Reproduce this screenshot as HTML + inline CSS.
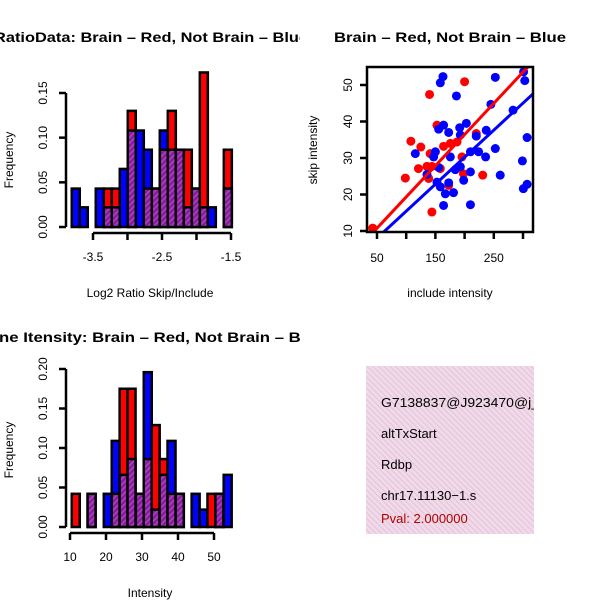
<!DOCTYPE html>
<html><head><meta charset="utf-8"><style>
body{margin:0;background:#fff}
svg{display:block;font-family:"Liberation Sans",sans-serif}
</style></head><body>
<svg id="c" width="600" height="600" xmlns="http://www.w3.org/2000/svg">
<defs>
<pattern id="hatch" width="4" height="4" patternUnits="userSpaceOnUse" patternTransform="rotate(45)">
<rect width="4" height="4" fill="#8c1aa0"/><rect width="1.5" height="4" fill="#a546bd"/></pattern>
<pattern id="pink" width="4" height="4" patternUnits="userSpaceOnUse" patternTransform="rotate(-45)">
<rect width="4" height="4" fill="#f6d6f0"/><rect width="1.2" height="4" fill="#d8d0c8"/></pattern>
<clipPath id="p1"><rect x="0" y="0" width="300" height="300"/></clipPath>
<clipPath id="p2"><rect x="300" y="0" width="300" height="300"/></clipPath>
<clipPath id="p3"><rect x="0" y="300" width="300" height="300"/></clipPath>
<clipPath id="sbox"><rect x="367" y="67" width="166" height="165"/></clipPath>
<clipPath id="tbox"><rect x="366" y="366" width="168" height="168"/></clipPath>
</defs>
<g clip-path="url(#p1)"><text x="-6" y="42" font-size="14" font-weight="bold" textLength="314" lengthAdjust="spacingAndGlyphs">RatioData: Brain – Red, Not Brain – Blue</text></g>
<g clip-path="url(#p2)"><text x="334" y="42" font-size="14" font-weight="bold" textLength="232" lengthAdjust="spacingAndGlyphs">Brain – Red, Not Brain – Blue</text></g>
<g clip-path="url(#p3)"><text x="-1" y="342" font-size="14" font-weight="bold" textLength="326" lengthAdjust="spacingAndGlyphs">ne Itensity: Brain – Red, Not Brain – Blue</text></g>
<g id="g1"></g><g id="g2"></g><g id="g3"></g>
<g>
<rect x="366" y="366" width="168" height="168" fill="url(#pink)"/>
<g clip-path="url(#tbox)" font-size="13">
<text x="381" y="407" textLength="158" lengthAdjust="spacingAndGlyphs">G7138837@J923470@j_</text>
<text x="381" y="438">altTxStart</text>
<text x="381" y="469">Rdbp</text>
<text x="381" y="500">chr17.11130−1.s</text>
<text x="381" y="523" fill="#b00000">Pval: 2.000000</text>
</g></g>
</svg>
<script>
// Ratio histogram data
const ratioBins = [-3.75,-3.634,-3.518,-3.402,-3.286,-3.17,-3.054,-2.938,-2.822,-2.706,-2.59,-2.474,-2.358,-2.242,-2.126,-2.01,-1.894,-1.778,-1.662,-1.546];
const ratioRed = [0,0,0,0,0.043,0.043,0,0.13,0,0.043,0.043,0.0865,0.13,0.0865,0.0865,0.043,0.173,0,0,0.0865];
const ratioBlue = [0.043,0.022,0,0.043,0.022,0.022,0.065,0.108,0.108,0.0865,0.043,0.108,0.0865,0.0865,0.022,0.043,0.022,0.022,0,0.043];
const ratioXTicks = [-3.5,-3.0,-2.5,-2.0,-1.5];
const ratioXLabels = ["-3.5","","-2.5","","-1.5"];
const ratioYTicks = [0,0.05,0.10,0.15];
const ratioYLabels = ["0.00","0.05","0.10","0.15"];
// Intensity histogram data
const intBins = [11.6,13.8,16.0,18.3,20.5,22.7,24.9,27.1,29.4,31.6,33.8,36.0,38.2,40.5,42.7,44.9,47.1,49.3,51.5,53.8];
const intRed = [0.042,0,0.042,0,0,0.042,0.175,0.175,0.042,0.086,0.129,0.086,0.042,0.042,0,0,0,0.042,0.042,0];
const intBlue = [0,0,0.042,0,0.042,0.109,0.066,0.086,0.042,0.196,0.022,0.066,0.109,0.042,0,0.042,0.022,0,0.042,0.066];
const intXTicks = [10,20,30,40,50];
const intYTicks = [0,0.05,0.10,0.15,0.20];
const intYLabels = ["0.00","0.05","0.10","0.15","0.20"];
// Scatter data
const redX = [42.6,140,200,152.7,108,125,141,164,175.6,187,195.5,121,135.6,144,158.4,98.5,144,172.7,198,231,220,138.5];
const redY = [10.8,47.4,50.9,39,34.6,33,31.2,33.2,34,34.4,30.3,27.1,27.7,27.7,27.1,24.5,15.2,22.5,25.7,25.3,36.7,24.4];
const blueX = [163,158.4,252.6,186,301,303,245,283,164,155.6,172.7,191.6,203,192.7,237,220,307,115.6,150,147,175.6,210,224,236,252.6,135.6,155.6,184,192.7,210,198.4,261,152.7,172.7,158.4,167,181,164,210,299,300.6,307];
const blueY = [52.3,50.6,52.1,47,53.6,51.2,44.7,43.1,39,37.9,37,38.3,39.5,36.3,37.6,36,35.6,31.2,31.7,30.3,30.3,31.7,31.7,30.3,32.6,25.5,27.4,26.8,27.6,26.2,23.9,25.3,23.4,23.2,22.1,20.2,20.5,17,17.2,29.2,21.6,22.8];
const redFit = [2.23,0.171];
const blueFit = [0.63,0.148];
const scXTicks = [50,100,150,200,250,300];
const scXLabels = ["50","","150","","250",""];
const scYTicks = [10,20,30,40,50];

const NS="http://www.w3.org/2000/svg";
function mk(p,t,a){const e=document.createElementNS(NS,t);for(const k in a)e.setAttribute(k,a[k]);p.appendChild(e);return e;}

function hist(g,bins,red,blue,bw,sx,sy,base,xt,xl,yt,yl,xAxisY,xlabel,ylabelX,ylabelY,name){
  for(let i=0;i<bins.length;i++){
    const x0=sx(bins[i]-bw/2), w=sx(bins[i]+bw/2)-x0;
    const r=red[i], b=blue[i], mx=Math.max(r,b), mn=Math.min(r,b);
    if(mx>0){
      const e=mk(g,'rect',{x:x0,y:sy(mx),width:w,height:base-sy(mx),fill:r>b?'#ff0000':'#0000ff',stroke:'#000','stroke-width':2.5});
      
      
    }
    if(mn>0){
      const e=mk(g,'rect',{x:x0,y:sy(mn),width:w,height:base-sy(mn),fill:'url(#hatch)',stroke:'#000','stroke-width':2.5});
      
      
    }
  }
  const ax=mk(g,'g',{stroke:'#000','stroke-width':2.5,fill:'none'});
  
  
  mk(ax,'line',{x1:sx(xt[0]),x2:sx(xt[xt.length-1]),y1:xAxisY,y2:xAxisY});
  xt.forEach(v=>mk(ax,'line',{x1:sx(v),x2:sx(v),y1:xAxisY,y2:xAxisY+7}));
  mk(ax,'line',{x1:66,x2:66,y1:sy(yt[0]),y2:sy(yt[yt.length-1])});
  yt.forEach(v=>mk(ax,'line',{x1:66,x2:59,y1:sy(v),y2:sy(v)}));
  xt.forEach((v,i)=>{if(xl[i]){const t=mk(g,'text',{x:sx(v),y:xAxisY+28,'font-size':12,'text-anchor':'middle'});t.textContent=xl[i];
    
    }});
  yt.forEach((v,i)=>{const t=mk(g,'text',{x:0,y:0,'font-size':12,'text-anchor':'middle',transform:`translate(47,${sy(v)}) rotate(-90)`});t.textContent=yl[i];
    
    });
  const xlab=mk(g,'text',{x:150,y:xAxisY+64,'font-size':12,'text-anchor':'middle'});xlab.textContent=xlabel;
  
  
  const ylab=mk(g,'text',{x:0,y:0,'font-size':12,'text-anchor':'middle',transform:`translate(${ylabelX},${ylabelY}) rotate(-90)`});ylab.textContent='Frequency';
  
  
}
hist(document.getElementById('g1'),ratioBins,ratioRed,ratioBlue,0.116,
  v=>93+(v+3.5)*69, v=>227-v*(134/0.15), 227, ratioXTicks, ratioXLabels, ratioYTicks, ratioYLabels, 233,
  'Log2 Ratio Skip/Include',13,160,'ratio-hist');
hist(document.getElementById('g3'),intBins,intRed,intBlue,2.22,
  v=>70+(v-10)*3.6, v=>527-v*(158/0.20), 527, intXTicks, intXTicks.map(String), intYTicks, intYLabels, 533,
  'Intensity',13,450,'intensity-hist');

// scatter
const g2=document.getElementById('g2');
const scx=v=>377+(v-50)*(146/250), scy=v=>231-(v-10)*(146/40);
const pts=mk(g2,'g',{'clip-path':'url(#sbox)'});
redX.forEach((v,i)=>{const c=mk(pts,'circle',{cx:scx(v),cy:scy(redY[i]),r:4.5,fill:'#ff0000'});
  
  });
blueX.forEach((v,i)=>{const c=mk(pts,'circle',{cx:scx(v),cy:scy(blueY[i]),r:4.5,fill:'#0000ff'});
  
  });
const rl=mk(pts,'line',{x1:scx(20),y1:scy(redFit[0]+redFit[1]*20),x2:scx(340),y2:scy(redFit[0]+redFit[1]*340),stroke:'#ff0000','stroke-width':3});


const bl=mk(pts,'line',{x1:scx(20),y1:scy(blueFit[0]+blueFit[1]*20),x2:scx(340),y2:scy(blueFit[0]+blueFit[1]*340),stroke:'#0000ff','stroke-width':3});


const sax=mk(g2,'g',{stroke:'#000','stroke-width':2.5,fill:'none'});


mk(sax,'rect',{x:367,y:67,width:166,height:165});
scXTicks.forEach(v=>mk(sax,'line',{x1:scx(v),x2:scx(v),y1:232,y2:239}));
scYTicks.forEach(v=>mk(sax,'line',{x1:367,x2:360,y1:scy(v),y2:scy(v)}));
scXTicks.forEach((v,i)=>{if(scXLabels[i]){const t=mk(g2,'text',{x:scx(v),y:262,'font-size':12,'text-anchor':'middle'});t.textContent=scXLabels[i];
  
  }});
scYTicks.forEach(v=>{const t=mk(g2,'text',{x:0,y:0,'font-size':12,'text-anchor':'middle',transform:`translate(352,${scy(v)}) rotate(-90)`});t.textContent=String(v);
  
  });
const sxl=mk(g2,'text',{x:450,y:297,'font-size':12,'text-anchor':'middle'});sxl.textContent='include intensity';


const syl=mk(g2,'text',{x:0,y:0,'font-size':12,'text-anchor':'middle',transform:'translate(317,150) rotate(-90)'});syl.textContent='skip intensity';


</script>
</body></html>
